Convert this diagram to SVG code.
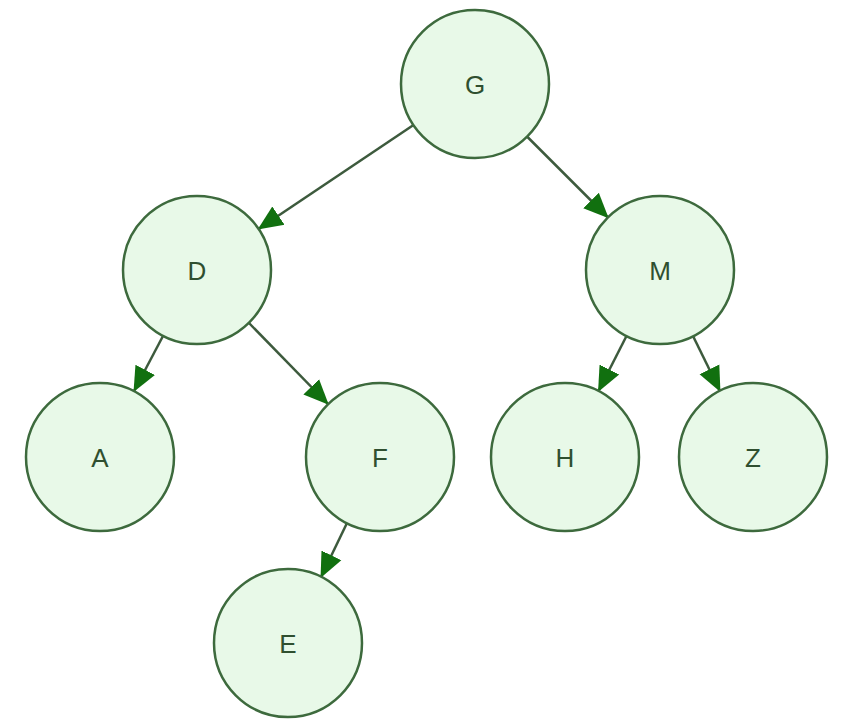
<svg xmlns="http://www.w3.org/2000/svg" width="846" height="723" viewBox="0 0 846 723">
<defs>
<style>
.node circle{fill:#e8f9e8;stroke:#3d6a3d;stroke-width:2.5}
.node text{font-family:"Liberation Sans",Arial,sans-serif;font-size:26px;fill:#2f4f2f;text-anchor:middle;dominant-baseline:central}
.edges line{stroke:#3d5a3d;stroke-width:2.5;marker-end:url(#arr)}
</style>
<marker id="arr" markerUnits="userSpaceOnUse" markerWidth="26" markerHeight="26" viewBox="0 0 26 26" refX="24" refY="13" orient="auto">
<path d="M0,2 L25,13 L0,24 Z" fill="#11700f"/>
</marker>
</defs>
<rect width="846" height="723" fill="#ffffff"/>
<g class="edges">
<line x1="413.5" y1="125" x2="258.5" y2="229"/>
<line x1="527" y1="136.5" x2="608" y2="217.5"/>
<line x1="163" y1="336" x2="134" y2="391"/>
<line x1="249" y1="323" x2="328" y2="404"/>
<line x1="626.5" y1="336" x2="598.5" y2="391"/>
<line x1="693" y1="336" x2="720" y2="391"/>
<line x1="347" y1="523" x2="321" y2="577"/>
</g>
<g id="G" class="node"><circle cx="475" cy="84" r="74"/><text x="475" y="85">G</text></g>
<g id="D" class="node"><circle cx="197" cy="270" r="74"/><text x="197" y="271">D</text></g>
<g id="M" class="node"><circle cx="660" cy="270" r="74"/><text x="660" y="271">M</text></g>
<g id="A" class="node"><circle cx="100" cy="457" r="74"/><text x="100" y="458">A</text></g>
<g id="F" class="node"><circle cx="380" cy="457" r="74"/><text x="380" y="458">F</text></g>
<g id="H" class="node"><circle cx="565" cy="457" r="74"/><text x="565" y="458">H</text></g>
<g id="Z" class="node"><circle cx="753" cy="457" r="74"/><text x="753" y="458">Z</text></g>
<g id="E" class="node"><circle cx="288" cy="643" r="74"/><text x="288" y="644">E</text></g>
</svg>
